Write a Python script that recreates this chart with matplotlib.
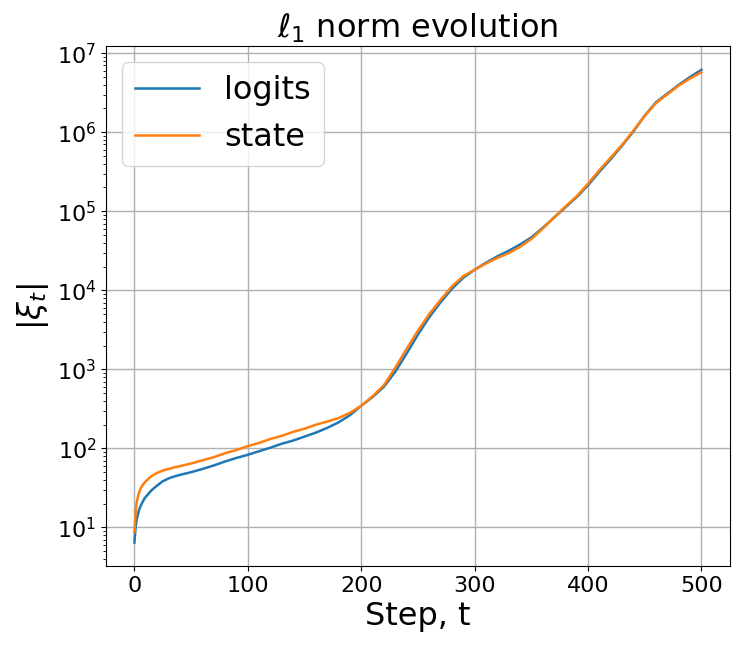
import matplotlib
matplotlib.use("Agg")
import matplotlib.pyplot as plt
import numpy as np

# steps at which values were read
steps = [0, 1, 2, 4, 6, 9, 12, 15, 20, 25, 30, 35, 40, 50, 60, 70, 80, 90, 100,
         110, 120, 130, 140, 150, 160, 170, 180, 190, 200, 210, 220, 230, 240,
         250, 260, 270, 280, 290, 300, 310, 320, 330, 340, 350, 360, 370, 380,
         390, 400, 410, 420, 430, 440, 450, 460, 470, 480, 490, 500]

# log10 of |xi_t| for logits
logits_log = [0.81, 1.00, 1.10, 1.22, 1.29, 1.37, 1.42, 1.47, 1.53, 1.585, 1.62, 1.645, 1.665,
              1.70, 1.74, 1.785, 1.835, 1.88, 1.92,
              1.965, 2.01, 2.06, 2.10, 2.15, 2.20, 2.26, 2.33, 2.42, 2.54, 2.65, 2.78,
              2.97, 3.20, 3.44, 3.66, 3.85, 4.02, 4.16, 4.26, 4.35, 4.43, 4.50, 4.58,
              4.67, 4.79, 4.92, 5.05, 5.18, 5.33, 5.50, 5.66, 5.83, 6.01, 6.21, 6.38,
              6.49, 6.60, 6.70, 6.79]

# log10 of |xi_t| for state
state_log = [0.94, 1.18, 1.32, 1.44, 1.51, 1.57, 1.61, 1.65, 1.69, 1.72, 1.74, 1.76, 1.775,
             1.81, 1.85, 1.89, 1.94, 1.98, 2.03,
             2.07, 2.12, 2.16, 2.21, 2.25, 2.30, 2.34, 2.385, 2.45, 2.54, 2.66, 2.80,
             3.02, 3.26, 3.49, 3.70, 3.88, 4.05, 4.18, 4.26, 4.34, 4.41, 4.47, 4.55,
             4.65, 4.78, 4.92, 5.06, 5.19, 5.35, 5.52, 5.68, 5.84, 6.02, 6.21, 6.37,
             6.48, 6.59, 6.68, 6.76]

logits = 10 ** np.array(logits_log)
state = 10 ** np.array(state_log)

fig = plt.figure(figsize=(7.47, 6.5), dpi=100)
ax = fig.add_axes([0.142, 0.129, 0.835, 0.800])
ax.plot(steps, logits, color="#1f77b4", lw=1.8, label="logits")
ax.plot(steps, state, color="#ff7f0e", lw=1.8, label="state")
ax.set_yscale("log")
ax.grid(True, which="major", color="#b0b0b0", lw=1.0)
ax.set_title(r"$\ell_1$ norm evolution", fontsize=23)
ax.set_xlabel("Step, t", fontsize=23)
ax.set_ylabel(r"$|\xi_t|$", fontsize=23)
ax.tick_params(axis="both", which="major", labelsize=16)
ax.set_xticks([0, 100, 200, 300, 400, 500])
ax.legend(fontsize=23, loc="upper left")
fig.savefig("out.png", dpi=100)
